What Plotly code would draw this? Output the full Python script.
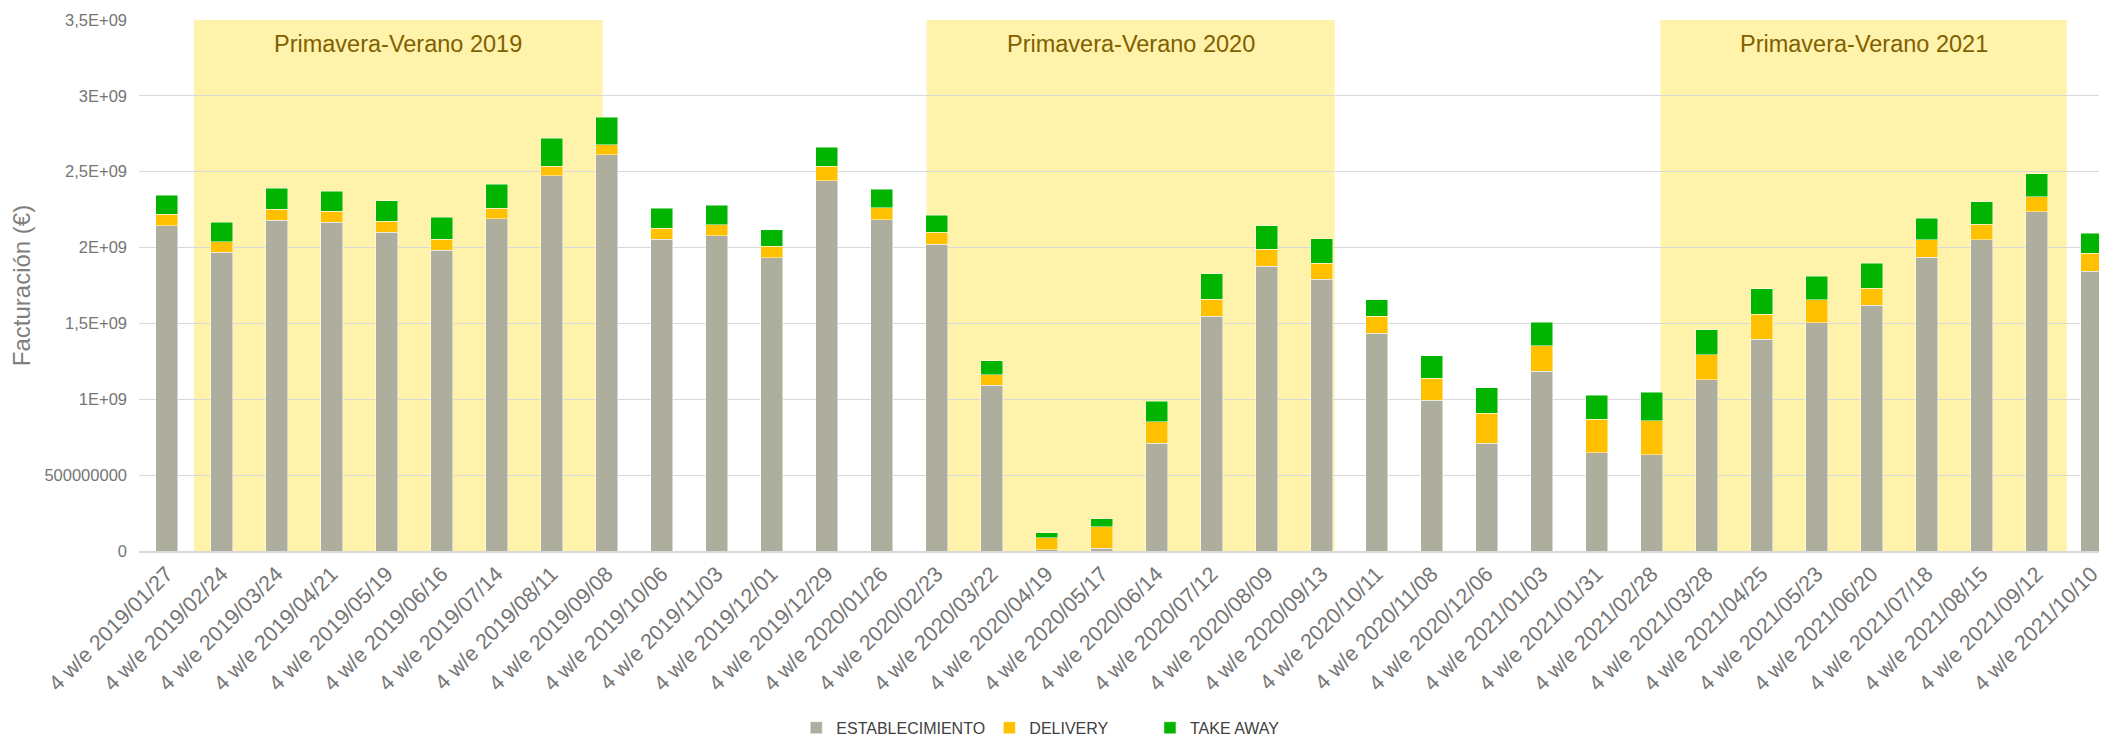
import plotly.graph_objects as go

# four-week periods (x categories)
PERIODS = [
    "4 w/e 2019/01/27", "4 w/e 2019/02/24", "4 w/e 2019/03/24", "4 w/e 2019/04/21",
    "4 w/e 2019/05/19", "4 w/e 2019/06/16", "4 w/e 2019/07/14", "4 w/e 2019/08/11",
    "4 w/e 2019/09/08", "4 w/e 2019/10/06", "4 w/e 2019/11/03", "4 w/e 2019/12/01",
    "4 w/e 2019/12/29", "4 w/e 2020/01/26", "4 w/e 2020/02/23", "4 w/e 2020/03/22",
    "4 w/e 2020/04/19", "4 w/e 2020/05/17", "4 w/e 2020/06/14", "4 w/e 2020/07/12",
    "4 w/e 2020/08/09", "4 w/e 2020/09/13", "4 w/e 2020/10/11", "4 w/e 2020/11/08",
    "4 w/e 2020/12/06", "4 w/e 2021/01/03", "4 w/e 2021/01/31", "4 w/e 2021/02/28",
    "4 w/e 2021/03/28", "4 w/e 2021/04/25", "4 w/e 2021/05/23", "4 w/e 2021/06/20",
    "4 w/e 2021/07/18", "4 w/e 2021/08/15", "4 w/e 2021/09/12", "4 w/e 2021/10/10",
]

# billing per channel, in units of 1e9 EUR
ESTABLECIMIENTO = [
    2.145, 1.968, 2.180, 2.168, 2.102, 1.983, 2.191, 2.472, 2.611, 2.056, 2.079, 1.933,
    2.442, 2.182, 2.023, 1.094, 0.007, 0.018, 0.709, 1.548, 1.876, 1.792, 1.435, 0.993,
    0.709, 1.184, 0.649, 0.634, 1.129, 1.396, 1.506, 1.620, 1.935, 2.050, 2.237, 1.845,
]
DELIVERY = [
    0.074, 0.071, 0.074, 0.073, 0.071, 0.071, 0.068, 0.064, 0.066, 0.071, 0.072, 0.075,
    0.094, 0.082, 0.079, 0.068, 0.081, 0.141, 0.143, 0.110, 0.114, 0.106, 0.111, 0.145,
    0.198, 0.170, 0.221, 0.223, 0.164, 0.165, 0.150, 0.113, 0.117, 0.103, 0.099, 0.117,
]
TAKE_AWAY = [
    0.126, 0.127, 0.137, 0.130, 0.137, 0.147, 0.158, 0.185, 0.183, 0.132, 0.128, 0.110,
    0.126, 0.122, 0.111, 0.091, 0.033, 0.054, 0.134, 0.170, 0.155, 0.161, 0.110, 0.150,
    0.170, 0.154, 0.156, 0.191, 0.167, 0.168, 0.156, 0.163, 0.141, 0.148, 0.149, 0.134,
]

# spring-summer seasons, as positions on the category axis
SEASON_LABELS = ["Primavera-Verano 2019", "Primavera-Verano 2020", "Primavera-Verano 2021"]
SEASON_START = [0.50, 13.82, 27.16]
SEASON_END = [7.93, 21.24, 34.55]

Y_TICKS = [0, 0.5e9, 1e9, 1.5e9, 2e9, 2.5e9, 3e9, 3.5e9]
Y_TICK_TEXT = ["0", "500000000", "1E+09", "1,5E+09", "2E+09", "2,5E+09", "3E+09", "3,5E+09"]

FONT = "Liberation Sans, Arial, sans-serif"
# name, values, colour, legend id, legend x (paper)
SERIES = [
    ("ESTABLECIMIENTO", ESTABLECIMIENTO, "#ADAE9E", "legend", 0.3340),
    ("DELIVERY", DELIVERY, "#FFC000", "legend2", 0.4321),
    ("TAKE AWAY", TAKE_AWAY, "#00B400", "legend3", 0.5137),
]

# the page body has an 8px margin, so the figure is 8px smaller than the window
W, H = 2099, 728
LEFT = 131
CAT_PX = 55  # pixels per category

fig = go.Figure()
for name, values, colour, leg, _ in SERIES:
    fig.add_trace(go.Bar(
        name=name,
        x=list(range(len(PERIODS))),
        y=[v * 1e9 for v in values],
        marker=dict(color=colour, line=dict(color="rgba(255,255,255,0.6)", width=0.8)),
        legend=leg,
        showlegend=True,
    ))

for label, x0, x1 in zip(SEASON_LABELS, SEASON_START, SEASON_END):
    fig.add_shape(type="rect", x0=x0, x1=x1, y0=0, y1=3.5e9,
                  xref="x", yref="y", layer="below",
                  fillcolor="#FFF2AA", line_width=0)
    fig.add_annotation(x=(x0 + x1) / 2, y=3.345e9, text=label, showarrow=False,
                       xref="x", yref="y", yanchor="middle",
                       font=dict(family=FONT, size=23.5, color="#7F6000"))

legend_style = dict(
    orientation="h", xanchor="left", y=-0.333, yanchor="middle",
    font=dict(family=FONT, size=16, color="#404040"),
    bgcolor="rgba(0,0,0,0)",
    visible=True,
)

fig.update_layout(
    barmode="stack",
    bargap=0.6,
    showlegend=True,
    width=W,
    height=H,
    margin=dict(l=LEFT, r=0, t=12, b=185, autoexpand=False),
    paper_bgcolor="white",
    plot_bgcolor="white",
    font=dict(family=FONT, color="#757575"),
    xaxis=dict(
        tickmode="array",
        tickvals=list(range(len(PERIODS))),
        ticktext=PERIODS,
        tickangle=-45,
        tickfont=dict(size=21.5, color="#757575"),
        range=[-0.5, -0.5 + (W - LEFT) / CAT_PX],
        showgrid=False,
        showline=True,
        linecolor="#D9D9D9",
        linewidth=2,
        ticks="",
    ),
    yaxis=dict(
        range=[0, 3.5e9],
        tickmode="array",
        tickvals=Y_TICKS,
        ticktext=Y_TICK_TEXT,
        tickfont=dict(size=16.5, color="#757575"),
        ticklabelstandoff=11,
        gridcolor="#D9D9D9",
        gridwidth=1.3,
        zeroline=False,
        ticks="",
        title=dict(text="Facturación (€)", standoff=10,
                   font=dict(size=24, color="#7F7F7F")),
    ),
    legend=dict(x=SERIES[0][4], **legend_style),
    legend2=dict(x=SERIES[1][4], **legend_style),
    legend3=dict(x=SERIES[2][4], **legend_style),
)

fig.write_html("out.html")
